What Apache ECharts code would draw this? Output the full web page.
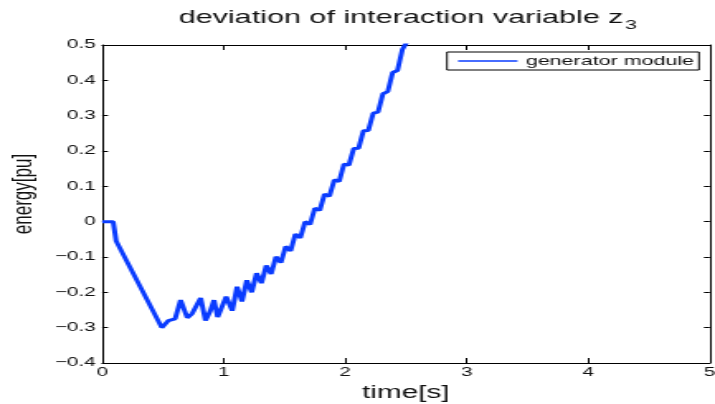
<!DOCTYPE html>
<html>
<head>
<meta charset="utf-8">
<script src="https://cdn.jsdelivr.net/npm/echarts@6/dist/echarts.min.js"></script>
<style>
html,body{margin:0;padding:0;background:#fff;overflow:hidden}
#wrap{width:715px;height:404px;overflow:hidden;position:relative}
#c{width:433px;height:404px;transform:scaleX(1.65127);transform-origin:0 0}
</style>
</head>
<body>
<div id="wrap"><div id="c"></div></div>
<script>
// ---- data ----
const timeS = [0, 0.09, 0.10, 0.115, 0.49, 0.545, 0.60, 0.645, 0.70, 0.74, 0.81, 0.85, 0.89, 0.92, 0.95, 1.02, 1.07, 1.11, 1.15, 1.19, 1.23, 1.27, 1.31, 1.35, 1.39, 1.43, 1.47, 1.51, 1.55, 1.59, 1.63, 1.67, 1.71, 1.75, 1.79, 1.83, 1.87, 1.91, 1.95, 1.99, 2.03, 2.07, 2.11, 2.15, 2.19, 2.23, 2.27, 2.31, 2.35, 2.39, 2.43, 2.47, 2.51];
const energyPu = [0, 0, -0.005, -0.055, -0.30, -0.28, -0.275, -0.222, -0.272, -0.26, -0.216, -0.28, -0.252, -0.222, -0.27, -0.212, -0.252, -0.184, -0.226, -0.166, -0.2, -0.146, -0.174, -0.124, -0.148, -0.099, -0.116, -0.07, -0.083, -0.035, -0.046, 0.0, -0.008, 0.038, 0.032, 0.078, 0.072, 0.118, 0.114, 0.163, 0.16, 0.207, 0.208, 0.257, 0.258, 0.307, 0.31, 0.362, 0.368, 0.422, 0.428, 0.487, 0.51];
const seriesName = 'generator module';
const xTickLabels = ['0', '1', '2', '3', '4', '5'];
const yTickLabels = ['\u22120.4', '\u22120.3', '\u22120.2', '\u22120.1', '0', '0.1', '0.2', '0.3', '0.4', '0.5'];
const titleText = 'deviation of interaction variable z';
const titleSub = '3';
const xName = 'time[s]';
const yName = 'energy[pu]';

const X_MIN = 0, X_MAX = 5, X_INT = 1;
const Y_MIN = -0.4, Y_MAX = 0.5, Y_INT = 0.1;

const points = timeS.map((t, i) => [t, energyPu[i]]);
const font = 'Liberation Sans, Arial, Helvetica, sans-serif';
const ink = '#111111';
const blue = '#0a3cff';

const xLab = v => xTickLabels[Math.round((v - X_MIN) / X_INT)] ?? '';
const yLab = v => yTickLabels[Math.round((v - Y_MIN) / Y_INT)] ?? '';

const axisLine = { show: true, onZero: false, lineStyle: { color: '#000', width: 1 } };

const chart = echarts.init(document.getElementById('c'), null, { renderer: 'canvas' });
chart.setOption({
  animation: false,
  backgroundColor: '#fff',
  title: {
    text: titleText + '{sub|' + titleSub + '}',
    left: 247,
    top: 3,
    padding: 0,
    textAlign: 'center',
    textStyle: {
      fontFamily: font, fontSize: 18.5, fontWeight: 'normal', color: ink,
      rich: { sub: { fontFamily: font, fontSize: 13, color: ink, padding: [16, 0, 0, 1] } }
    }
  },
  legend: {
    left: 270.7,
    top: 52,
    padding: [2.5, 3, 2.5, 6.7],
    itemWidth: 36,
    itemHeight: 1.6,
    icon: 'rect',
    borderColor: '#000',
    borderWidth: 1,
    backgroundColor: '#fff',
    textStyle: { fontFamily: font, fontSize: 13, color: ink },
    data: [seriesName]
  },
  grid: { left: 61.9, top: 45, width: 367.9, height: 318, containLabel: false, outerBoundsMode: 'none' },
  xAxis: [
    {
      type: 'value', min: X_MIN, max: X_MAX, interval: X_INT, position: 'bottom',
      name: xName, nameLocation: 'middle', nameGap: 19,
      nameTextStyle: { fontFamily: font, fontSize: 18, color: ink },
      axisLine: axisLine,
      axisTick: { show: true, inside: true, length: 5, lineStyle: { color: '#000' } },
      axisLabel: { formatter: xLab, margin: 3, fontFamily: font, fontSize: 12.5, color: ink },
      splitLine: { show: false }
    },
    {
      type: 'value', min: X_MIN, max: X_MAX, interval: X_INT, position: 'top',
      axisLine: axisLine,
      axisTick: { show: true, inside: true, length: 5, lineStyle: { color: '#000' } },
      axisLabel: { show: false },
      splitLine: { show: false }
    }
  ],
  yAxis: [
    {
      type: 'value', min: Y_MIN, max: Y_MAX, interval: Y_INT, position: 'left',
      name: yName, nameLocation: 'middle', nameGap: 37,
      nameTextStyle: { fontFamily: font, fontSize: 17, color: ink, padding: [0, 0, 0, 20] },
      axisLine: axisLine,
      axisTick: { show: true, inside: true, length: 3.5, lineStyle: { color: '#000' } },
      axisLabel: { formatter: yLab, margin: 4, fontFamily: font, fontSize: 12.5, color: ink },
      splitLine: { show: false }
    },
    {
      type: 'value', min: Y_MIN, max: Y_MAX, interval: Y_INT, position: 'right',
      axisLine: axisLine,
      axisTick: { show: true, inside: true, length: 3.5, lineStyle: { color: '#000' } },
      axisLabel: { show: false },
      splitLine: { show: false }
    }
  ],
  series: [
    {
      name: seriesName,
      type: 'line',
      xAxisIndex: 0,
      yAxisIndex: 0,
      data: points,
      symbol: 'none',
      clip: true,
      lineStyle: { color: blue, width: 3 },
      itemStyle: { color: blue }
    }
  ]
});
</script>
</body>
</html>
